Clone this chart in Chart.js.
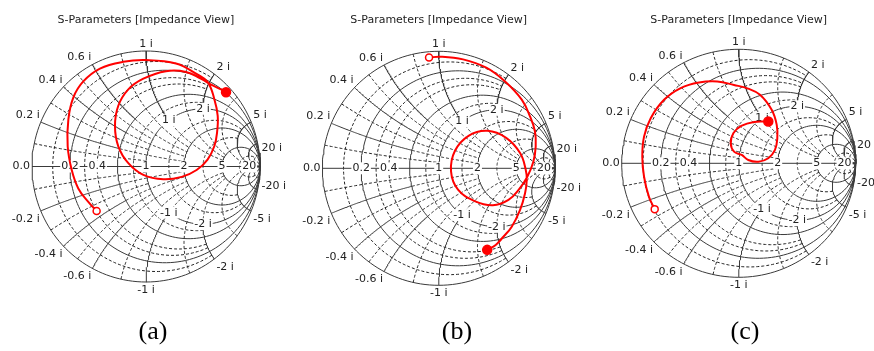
<!DOCTYPE html>
<html>
<head>
<meta charset="utf-8">
<script src="https://cdn.jsdelivr.net/npm/chart.js@4.4.0/dist/chart.umd.min.js"></script>
<style>
body{margin:0;background:#fff;width:874px;height:351px;overflow:hidden;position:relative}
canvas{position:absolute;left:0;top:0}
</style>
</head>
<body>
<canvas id="chartA" width="874" height="351"></canvas>
<canvas id="chartB" width="874" height="351"></canvas>
<canvas id="chartC" width="874" height="351"></canvas>
<script>
// titles and panel captions
var chartTitle = "S-Parameters [Impedance View]";
var panelNames = ["(a)", "(b)", "(c)"];

// tick labels of the smith grid
var resistanceTicks = [0.2, 0.4, 1, 2, 5, 20];     // on the real axis
var reactanceTicks = [0.2, 0.4, 0.6, 1, 2, 5, 20]; // round the rim (+ and -)
var innerReactanceTicks = [1, 2];                  // written on the r = 1 circle

// grid values (normalized impedance)
var rMajor = [0.2, 0.6, 1, 2, 5, 20];
var rMinor = [0.1, 0.3, 0.4, 0.8, 1.5, 3, 10];
var xMajor = [0.2, 0.4, 0.6, 1, 2, 5, 10];
var xMinor = [0.1, 0.3, 0.5, 0.8, 1.5, 3, 20];

// S11 traces, reflection coefficient (re, im)
var traceARe = [-0.433,-0.506,-0.594,-0.652,-0.687,-0.681,-0.637,-0.55,-0.404,-0.199,0,0.263,0.439,0.541,0.599,0.629,0.623,0.599,0.54,0.444,0.313,0.152,-0.023,-0.155,-0.243,-0.272,-0.243,-0.155,-0.023,0.175,0.351,0.48,0.585,0.658,0.702];
var traceAIm = [-0.386,-0.307,-0.19,-0.029,0.175,0.409,0.599,0.737,0.848,0.906,0.921,0.892,0.804,0.731,0.585,0.439,0.292,0.175,0.06,-0.03,-0.09,-0.111,-0.073,0.029,0.175,0.351,0.526,0.668,0.76,0.825,0.819,0.76,0.702,0.667,0.643];

var traceBRe = [-0.083,0.009,0.209,0.409,0.566,0.714,0.785,0.828,0.834,0.814,0.762,0.69,0.6,0.466,0.309,0.166,0.106,0.14,0.26,0.42,0.58,0.7,0.748,0.757,0.742,0.699,0.628,0.556,0.49,0.417];
var traceBIm = [0.946,0.954,0.931,0.86,0.746,0.587,0.444,0.313,0.185,0.056,-0.072,-0.18,-0.27,-0.315,-0.28,-0.183,-0.026,0.15,0.28,0.32,0.26,0.13,-0.01,-0.1,-0.215,-0.357,-0.499,-0.585,-0.655,-0.697];

var traceCRe = [-0.718,-0.767,-0.809,-0.824,-0.809,-0.752,-0.638,-0.496,-0.339,-0.183,-0.04,0.08,0.182,0.282,0.325,0.33,0.31,0.253,0.168,0.082,0.026,-0.04,-0.068,-0.046,0.022,0.131,0.253];
var traceCIm = [-0.402,-0.294,-0.118,0.058,0.234,0.396,0.557,0.66,0.709,0.718,0.687,0.655,0.601,0.469,0.337,0.22,0.117,0.044,0.014,0.029,0.073,0.102,0.176,0.264,0.328,0.363,0.366];

// where each smith circle sits on the page
var panels = [
  {id: "chartA", cx: 146, cy: 166.5, rx: 114, ry: 115.5, re: traceARe, im: traceAIm, name: panelNames[0], nameX: 153},
  {id: "chartB", cx: 438.7, cy: 168.3, rx: 116.3, ry: 117, re: traceBRe, im: traceBIm, name: panelNames[1], nameX: 457},
  {id: "chartC", cx: 738.7, cy: 163.3, rx: 117, ry: 114, re: traceCRe, im: traceCIm, name: panelNames[2], nameX: 745}
];

var BIG = 1e6;

function gamma(r, x) {
  var d = (r + 1) * (r + 1) + x * x;
  return {x: (r * r + x * x - 1) / d, y: 2 * x / d};
}

// circle of constant r, for |x| <= xmax
function rCurve(r, xmax) {
  var pts = [];
  var a = Math.atan(xmax);
  for (var i = 0; i <= 160; i++) {
    var x = Math.tan(-a + 2 * a * i / 160);
    pts.push(gamma(r, x));
  }
  return pts;
}

// arc of constant x, for r0 <= r <= r1
function xCurve(x, r0, r1) {
  var pts = [];
  var a0 = Math.atan(r0), a1 = Math.atan(r1);
  for (var i = 0; i <= 100; i++) {
    pts.push(gamma(Math.tan(a0 + (a1 - a0) * i / 100), x));
  }
  return pts;
}

function gridSet(pts, dashed) {
  return {
    data: pts, showLine: true, pointRadius: 0, tension: 0, clip: false,
    borderColor: dashed ? "#222" : "#3a3a3a", borderWidth: 1,
    borderDash: dashed ? [3, 2] : [], order: 2
  };
}

function buildGrid() {
  var ds = [];
  ds.push(gridSet(rCurve(0, BIG), false)); // rim
  ds.push(gridSet([{x: -1, y: 0}, {x: 1, y: 0}], false)); // real axis
  rMajor.forEach(function (r) { ds.push(gridSet(rCurve(r, BIG), false)); });
  rMinor.forEach(function (r) {
    var lim = r < 1 ? 2 : (r <= 3 ? 5 : 20);
    ds.push(gridSet(rCurve(r, lim), true));
  });
  [1, -1].forEach(function (s) {
    xMajor.forEach(function (x) {
      if (x < 1) {
        ds.push(gridSet(xCurve(s * x, 0, 0.6), false));
        ds.push(gridSet(xCurve(s * x, 0.6, 2), true));
      } else if (x <= 2) {
        ds.push(gridSet(xCurve(s * x, 0, 1), false));
        ds.push(gridSet(xCurve(s * x, 1, 5), true));
      } else {
        ds.push(gridSet(xCurve(s * x, 0, BIG), false));
      }
    });
    xMinor.forEach(function (x) {
      var lim = x < 0.8 ? 1 : (x < 1 ? 2 : (x < 2 ? 5 : (x < 5 ? 10 : BIG)));
      ds.push(gridSet(xCurve(s * x, 0, lim), true));
    });
  });
  return ds;
}

function fmt(v) {
  return String(v);
}

function boxText(ctx, txt, x, y) {
  var w = ctx.measureText(txt).width;
  ctx.fillStyle = "#fff";
  ctx.fillRect(x - w / 2 - 1, y - 6, w + 2, 12);
  ctx.fillStyle = "#222";
  ctx.textAlign = "center";
  ctx.fillText(txt, x, y);
}

function drawLabels(chart) {
  var ctx = chart.ctx, sx = chart.scales.x, sy = chart.scales.y;
  ctx.save();
  ctx.font = '11px "DejaVu Sans"';
  ctx.textBaseline = "middle";
  // real axis
  ctx.fillStyle = "#222";
  ctx.textAlign = "right";
  ctx.fillText("0.0", sx.getPixelForValue(-1) - 2, sy.getPixelForValue(0));
  resistanceTicks.forEach(function (r) {
    var g = gamma(r, 0);
    boxText(ctx, fmt(r), sx.getPixelForValue(g.x), sy.getPixelForValue(0));
  });
  // rim
  [1, -1].forEach(function (s) {
    reactanceTicks.forEach(function (x) {
      var g = gamma(0, s * x);
      var px = sx.getPixelForValue(g.x), py = sy.getPixelForValue(g.y);
      var txt = fmt(s * x) + " i";
      var ty = s > 0 ? py - 7 : py + 8;
      ctx.fillStyle = "#222";
      if (Math.abs(g.x) < 0.05) { ctx.textAlign = "center"; ctx.fillText(txt, px, ty); }
      else if (g.x < 0) { ctx.textAlign = "right"; ctx.fillText(txt, px - 1, ty); }
      else { ctx.textAlign = "left"; ctx.fillText(txt, px + 2, ty); }
    });
    innerReactanceTicks.forEach(function (x) {
      var g = gamma(1, s * x);
      boxText(ctx, fmt(s * x) + " i", sx.getPixelForValue(g.x), sy.getPixelForValue(g.y));
    });
  });
  ctx.restore();
}

var smithPlugin = {
  id: "smith",
  beforeDraw: function (chart) { chart.$labelsDone = false; },
  beforeDatasetDraw: function (chart, args) {
    if (chart.data.datasets[args.index].isTrace && !chart.$labelsDone) {
      drawLabels(chart);
      chart.$labelsDone = true;
    }
  },
  afterDraw: function (chart) {
    var p = chart.options.plugins.smith;
    var ctx = chart.ctx;
    ctx.save();
    ctx.fillStyle = "#222";
    ctx.textAlign = "center";
    ctx.textBaseline = "middle";
    ctx.font = '11px "DejaVu Sans"';
    ctx.fillText(chartTitle, p.cx, 20);
    ctx.fillStyle = "#000";
    ctx.font = '26px "Liberation Serif"';
    ctx.fillText(p.name, p.nameX, 332);
    ctx.restore();
  }
};

panels.forEach(function (p) {
  var pts = [];
  for (var i = 0; i < p.re.length; i++) pts.push({x: p.re[i], y: p.im[i]});
  var last = pts.length - 1;
  var ds = buildGrid();
  ds.push({
    isTrace: true, data: pts, showLine: true, tension: 0.4, clip: false, order: 0,
    borderColor: "#ff0000", borderWidth: 2,
    pointRadius: function (c) { return c.dataIndex === 0 ? 3.5 : (c.dataIndex === last ? 4.5 : 0); },
    pointBackgroundColor: function (c) { return c.dataIndex === 0 ? "#fff" : "#ff0000"; },
    pointBorderColor: "#ff0000", pointBorderWidth: 1.5
  });
  new Chart(document.getElementById(p.id), {
    type: "scatter",
    data: {datasets: ds},
    options: {
      responsive: false, animation: false, devicePixelRatio: 1, events: [],
      layout: {padding: {left: p.cx - p.rx, right: 874 - p.cx - p.rx, top: p.cy - p.ry, bottom: 351 - p.cy - p.ry}},
      scales: {
        x: {type: "linear", display: false, min: -1, max: 1},
        y: {type: "linear", display: false, min: -1, max: 1}
      },
      plugins: {legend: {display: false}, tooltip: {enabled: false}, smith: p}
    },
    plugins: [smithPlugin]
  });
});
</script>
</body>
</html>
